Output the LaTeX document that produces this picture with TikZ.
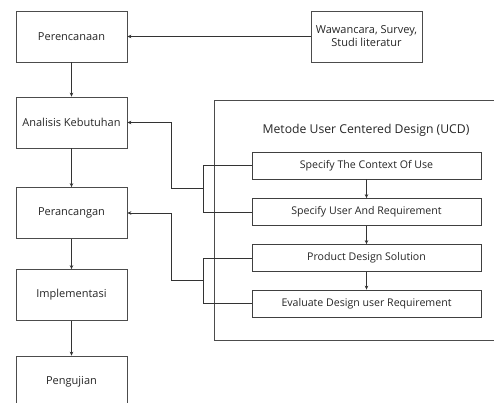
\documentclass[tikz,border=0pt]{standalone}
\usepackage{fontspec}
\setmainfont{Open Sans}
\usetikzlibrary{positioning,calc,arrows.meta}

\begin{document}
\begin{tikzpicture}[x=1pt, y=-1pt, ->, >={Stealth[length=4pt,width=3.5pt]}, line width=0.7pt, black!80,
  stage/.style = {rectangle, draw=black!70, fill=white, text=black!85, minimum width=111pt, minimum height=51pt, inner sep=2pt, font=\fontsize{11}{13}\selectfont, align=center},
  ucd/.style = {rectangle, draw=black!75, fill=white, text=black!85, minimum width=229pt, minimum height=27pt, inner sep=1pt, font=\fontsize{10.6}{12}\selectfont},
  every edge/.append style={line width=0.7pt}]

\clip (0,0) rectangle (494,403);

% tahapan
\node[stage] (plan) at (71.5,36.5) {Perencanaan};
\node[stage] (anal) at (71.5,122.5) {Analisis Kebutuhan};
\node[stage] (ranc) at (71.5,213) {Perancangan};
\node[stage] (impl) at (71.5,295) {Implementasi};
\node[stage] (uji) at (71.5,381.5) {Pengujian};
\node[stage] (wawan) at (366.5,36.5) {Wawancara, Survey,\\Studi literatur};

% metode UCD
\draw[-, black!70] (497,100) -- (214,100) -- (214,340) -- (497,340);
\node[text=black!85, font=\fontsize{12.2}{14}\selectfont] (judul) at (366,130) {Metode User Centered Design (UCD)};
\node[ucd] (s1) at (366.5,165.5) {Specify The Context Of Use};
\node[ucd] (s2) at (366.5,212) {Specify User And Requirement};
\node[ucd] (s3) at (366.5,258) {Product Design Solution};
\node[ucd] (s4) at (366.5,303.5) {Evaluate Design user Requirement};

\path
 (plan) edge (anal)
 (anal) edge (ranc)
 (ranc) edge (impl)
 (impl) edge (uji)
 (wawan) edge (plan)
 (s1) edge (s2)
 (s2) edge (s3)
 (s3) edge (s4);

% kurung
\coordinate (b1) at (204,188.75);
\coordinate (b2) at (204,280.75);
\draw[-] (s1.west) -- ++(-48,0) |- (s2.west);
\draw[-] (s3.west) -- ++(-48,0) |- (s4.west);
\draw (b1) -- ++(-33,0) |- (anal.east);
\draw (b2) -- ++(-33,0) |- (ranc.east);
\end{tikzpicture}
\end{document}
